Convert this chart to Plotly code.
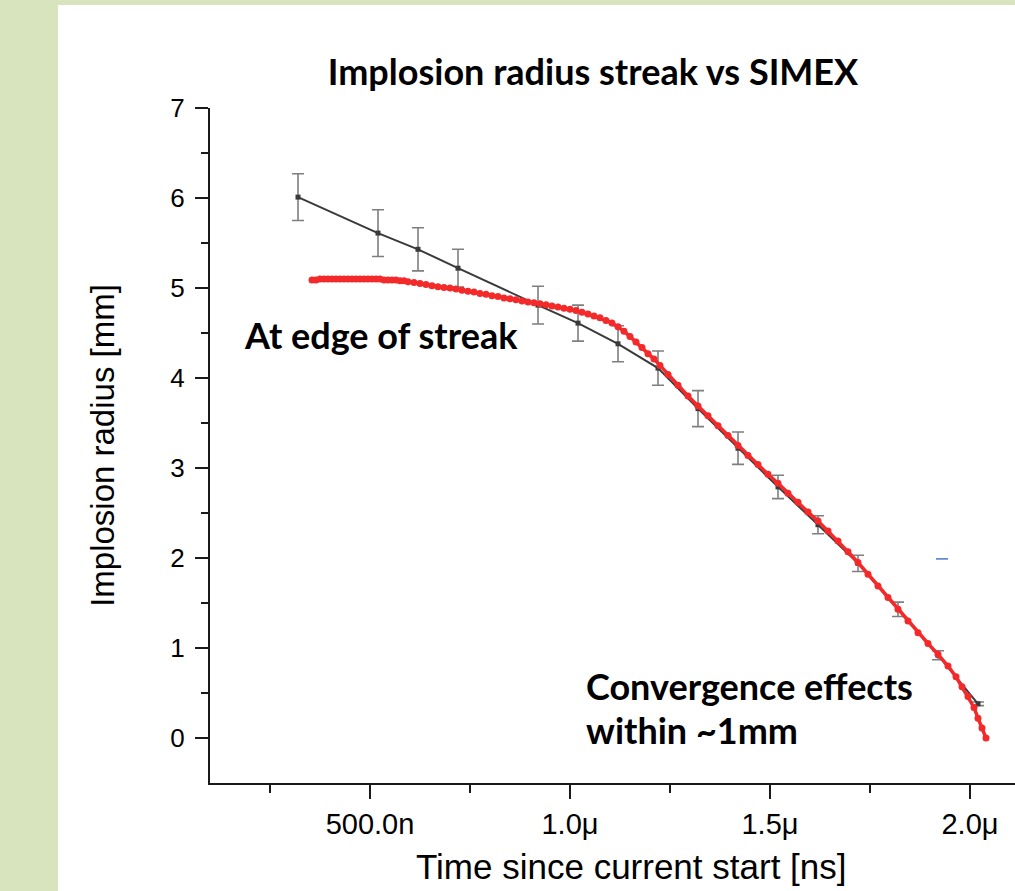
import plotly.graph_objects as go

# ---------------- data (time in microseconds, radius in mm) ----------------
streak_t = [0.32, 0.52, 0.62, 0.72, 0.92, 1.02, 1.12, 1.22, 1.32, 1.42, 1.52, 1.62, 1.72, 1.82, 1.92, 2.02]
streak_r = [6.01, 5.61, 5.43, 5.22, 4.81, 4.61, 4.38, 4.11, 3.66, 3.22, 2.79, 2.37, 1.94, 1.43, 0.92, 0.38]
streak_err = [0.26, 0.26, 0.24, 0.21, 0.21, 0.20, 0.20, 0.19, 0.20, 0.18, 0.13, 0.10, 0.09, 0.08, 0.05, 0.02]

simex_t = [0.355, 0.365, 0.375, 0.385, 0.395, 0.405, 0.415, 0.425, 0.435, 0.445, 0.455, 0.465, 0.475,
           0.485, 0.495, 0.505, 0.515, 0.525, 0.535, 0.545, 0.555, 0.565, 0.575, 0.585, 0.595,
           0.61, 0.625, 0.64, 0.655, 0.67, 0.685, 0.70, 0.715, 0.73, 0.745, 0.76, 0.775, 0.79,
           0.805, 0.82, 0.835, 0.85, 0.865, 0.88, 0.895, 0.91, 0.925, 0.94, 0.955, 0.97, 0.985,
           1.00, 1.015, 1.03, 1.045, 1.06, 1.075, 1.09, 1.105, 1.12, 1.135, 1.15, 1.165, 1.18,
           1.195, 1.21, 1.225, 1.245, 1.27, 1.295, 1.32, 1.345, 1.37, 1.395,
           1.42, 1.445, 1.47, 1.495, 1.52, 1.545, 1.57, 1.595, 1.62, 1.645, 1.67, 1.695, 1.72,
           1.745, 1.77, 1.795, 1.82, 1.845, 1.87, 1.895, 1.92, 1.945, 1.965, 1.98, 1.995,
           2.01, 2.02, 2.03, 2.04]
simex_r = [5.09, 5.09, 5.10, 5.10, 5.10, 5.10, 5.10, 5.10, 5.10, 5.10, 5.10, 5.10, 5.10,
           5.10, 5.10, 5.10, 5.10, 5.10, 5.09, 5.09, 5.09, 5.09, 5.08, 5.08, 5.07,
           5.06, 5.05, 5.04, 5.025, 5.015, 5.005, 5.00, 4.99, 4.975, 4.965, 4.955, 4.94, 4.93,
           4.915, 4.905, 4.89, 4.88, 4.87, 4.855, 4.845, 4.835, 4.825, 4.815, 4.80, 4.79, 4.775,
           4.765, 4.75, 4.73, 4.71, 4.69, 4.67, 4.64, 4.61, 4.57, 4.52, 4.46, 4.40, 4.34,
           4.27, 4.21, 4.14, 4.04, 3.92, 3.80, 3.69, 3.58, 3.47, 3.36,
           3.25, 3.14, 3.04, 2.93, 2.83, 2.72, 2.62, 2.51, 2.41, 2.30, 2.19, 2.07, 1.95,
           1.82, 1.69, 1.56, 1.43, 1.30, 1.17, 1.05, 0.93, 0.80, 0.68, 0.57, 0.46,
           0.34, 0.22, 0.11, 0.00]

blue_dash_t = [1.915, 1.945]
blue_dash_r = [1.99, 1.99]

x_tickvals = [0.5, 1.0, 1.5, 2.0]
x_ticktext = ["500.0n", "1.0\u03bc", "1.5\u03bc", "2.0\u03bc"]
x_minor = [0.25, 0.75, 1.25, 1.75]
y_tickvals = [0, 1, 2, 3, 4, 5, 6, 7]
y_minor = [0.5, 1.5, 2.5, 3.5, 4.5, 5.5, 6.5]

W, H = 1015, 891
L, R, T, B = 210, 0, 108, 108
pw, ph = W - L - R, H - T - B

def px_x(p):
    return (p - L) / pw

def px_y(p):
    return (H - B - p) / ph

fig = go.Figure()

fig.add_trace(go.Scatter(
    x=streak_t, y=streak_r, mode="lines+markers",
    line=dict(color="#3a3a3a", width=2),
    marker=dict(symbol="square", size=5, color="#3a3a3a"),
    error_y=dict(type="data", array=streak_err, visible=True, color="#7f7f7f", thickness=1.6, width=6),
    showlegend=False, name="Streak",
))

fig.add_trace(go.Scatter(
    x=simex_t, y=simex_r, mode="lines+markers",
    line=dict(color="#f42a2a", width=3.5),
    marker=dict(size=7, color="#f42a2a"),
    showlegend=False, name="SIMEX",
))

fig.add_trace(go.Scatter(
    x=blue_dash_t, y=blue_dash_r, mode="lines",
    line=dict(color="#4a78c8", width=1.5),
    showlegend=False, hoverinfo="skip",
))

FONT_REG = "Liberation Sans, Arial, sans-serif"
FONT_NARROW = "Liberation Sans Narrow, Arial Narrow, Liberation Sans, Arial, sans-serif"
FONT_BOLD = "Lato, Open Sans, sans-serif"

fig.update_layout(
    width=W, height=H,
    margin=dict(l=L, r=R, t=T, b=B, pad=0),
    paper_bgcolor="#d8e4bd",
    plot_bgcolor="white",
    showlegend=False,
    title=dict(
        text="<b>Implosion radius streak vs SIMEX</b>",
        font=dict(family=FONT_BOLD, size=36, color="black"),
        x=px_x(593), xref="paper", xanchor="center",
        y=1 - 72 / H, yref="container", yanchor="middle",
    ),
    xaxis=dict(
        range=[0.1, 0.1 + pw / 400.0],
        showline=True, linecolor="#1a1a1a", linewidth=2,
        showgrid=False, zeroline=False,
        ticks="outside", ticklen=14, tickwidth=2, tickcolor="#1a1a1a",
        tickmode="array", tickvals=x_tickvals, ticktext=x_ticktext,
        tickfont=dict(family=FONT_NARROW, size=29, color="black"),
        ticklabelstandoff=0,
        minor=dict(tickmode="array", tickvals=x_minor, ticks="outside", ticklen=8,
                   tickwidth=2, tickcolor="#1a1a1a"),
    ),
    yaxis=dict(
        range=[-0.5, 7],
        showline=True, linecolor="#1a1a1a", linewidth=2,
        showgrid=False, zeroline=False,
        ticks="outside", ticklen=13, tickwidth=2, tickcolor="#1a1a1a",
        tickmode="array", tickvals=y_tickvals,
        tickfont=dict(family=FONT_REG, size=26, color="black"),
        ticklabelstandoff=5,
        minor=dict(tickmode="array", tickvals=y_minor, ticks="outside", ticklen=7,
                   tickwidth=2, tickcolor="#1a1a1a"),
        title=dict(text="Implosion radius [mm]",
                   font=dict(family=FONT_REG, size=33, color="black"), standoff=46),
    ),
    shapes=[
        dict(type="rect", xref="paper", yref="paper", layer="below",
             x0=px_x(58), x1=1.0, y0=px_y(H + 5), y1=px_y(5),
             fillcolor="white", line=dict(width=0)),
    ],
    annotations=[
        dict(text="Time since current start [ns]", x=px_x(631), y=px_y(867),
             xref="paper", yref="paper", xanchor="center", yanchor="middle", showarrow=False,
             font=dict(family=FONT_REG, size=35, color="black")),
        dict(text="<b>At edge of streak</b>", x=px_x(242), y=px_y(335), xref="paper", yref="paper",
             xanchor="left", yanchor="middle", showarrow=False,
             font=dict(family=FONT_BOLD, size=36, color="black")),
        dict(text="<b>Convergence effects</b>", x=px_x(584), y=px_y(686), xref="paper", yref="paper",
             xanchor="left", yanchor="middle", showarrow=False,
             font=dict(family=FONT_BOLD, size=36, color="black")),
        dict(text="<b>within ~1mm</b>", x=px_x(584), y=px_y(730), xref="paper", yref="paper",
             xanchor="left", yanchor="middle", showarrow=False,
             font=dict(family=FONT_BOLD, size=36, color="black")),
    ],
)

fig.write_html("out.html")
